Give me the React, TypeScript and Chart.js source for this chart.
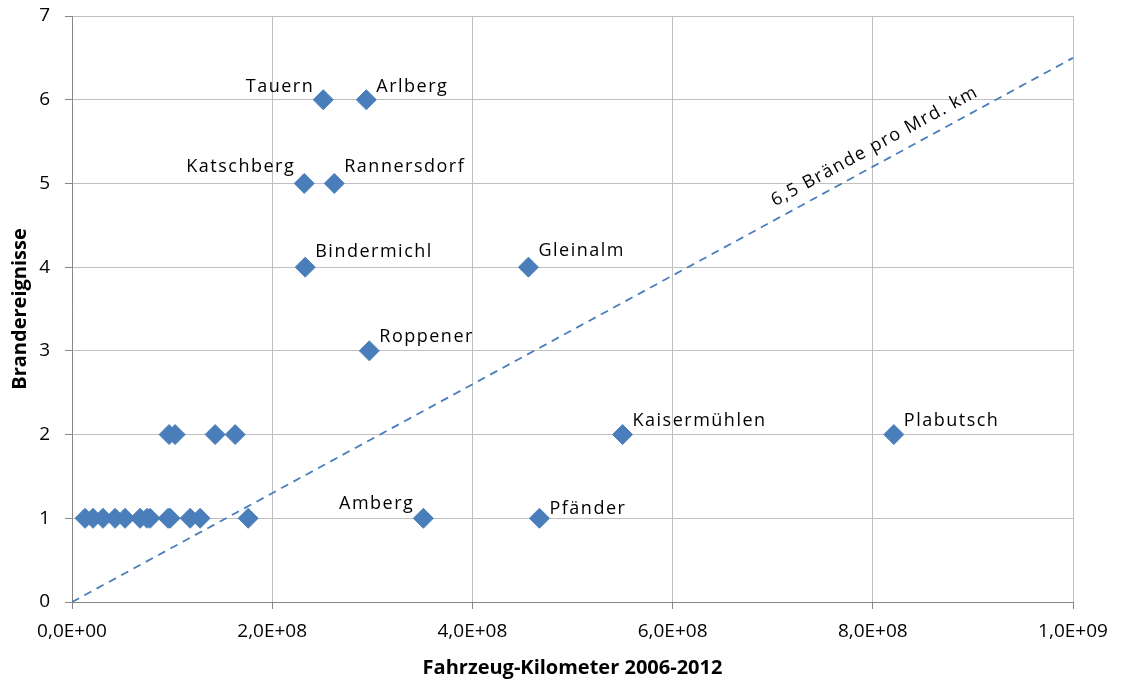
import React, { useEffect, useRef } from "react";
import { Chart, registerables } from "chart.js";

Chart.register(...registerables);

// Labelled tunnels
const tunnelNames = [
  "Tauern", "Arlberg", "Katschberg", "Rannersdorf", "Bindermichl", "Gleinalm",
  "Roppener", "Kaisermühlen", "Plabutsch", "Amberg", "Pfänder",
];
const tunnelKm = [
  2.51e8, 2.94e8, 2.32e8, 2.62e8, 2.33e8, 4.56e8,
  2.97e8, 5.5e8, 8.21e8, 3.51e8, 4.67e8,
];
const tunnelFires = [6, 6, 5, 5, 4, 4, 3, 2, 2, 1, 1];

// Unlabelled tunnels
const otherKm = [
  1.3e7, 2.1e7, 3.1e7, 4.3e7, 5.3e7, 6.8e7, 7.5e7, 7.8e7, 9.6e7, 9.8e7, 1.18e8, 1.28e8, 1.76e8,
  9.7e7, 1.03e8, 1.43e8, 1.63e8,
];
const otherFires = [
  1, 1, 1, 1, 1, 1, 1, 1, 1, 1, 1, 1, 1,
  2, 2, 2, 2,
];

// Reference line: 6,5 fires per billion km
const rateLabel = "6,5 Brände pro Mrd. km";
const rateLineX = [0, 1e9];
const rateLineY = [0, 6.5];

const xTitle = "Fahrzeug-Kilometer 2006-2012";
const yTitle = "Brandereignisse";

// label placement (style only): side of point and vertical offset
const labelSide = ["l", "r", "l", "r", "r", "r", "r", "r", "r", "l", "r"];
const labelDy = [-13, -13, -17, -17, -15, -16, -14, -14, -14, -14, -9];

const FONT = "'Open Sans', 'Noto Sans', sans-serif";
const BLUE = "#4a7ebb";

function sci(v: number): string {
  if (v === 0) return "0,0E+00";
  const e = Math.floor(Math.log10(Math.abs(v)) + 1e-9);
  const m = v / Math.pow(10, e);
  return m.toFixed(1).replace(".", ",") + "E+" + String(e).padStart(2, "0");
}

const textPlugin = {
  id: "texts",
  afterDatasetsDraw(chart: any) {
    const ctx = chart.ctx;
    const xs = chart.scales.x;
    const ys = chart.scales.y;
    ctx.save();
    // point labels
    ctx.font = `18px ${FONT}`;
    (ctx as any).letterSpacing = "1.5px";
    ctx.fillStyle = "#000";
    ctx.textBaseline = "middle";
    tunnelNames.forEach((n, i) => {
      const px = xs.getPixelForValue(tunnelKm[i]);
      const py = ys.getPixelForValue(tunnelFires[i]);
      if (labelSide[i] === "l") {
        ctx.textAlign = "right";
        ctx.fillText(n, px - 9, py + labelDy[i]);
      } else {
        ctx.textAlign = "left";
        ctx.fillText(n, px + 10, py + labelDy[i]);
      }
    });
    // rate line label
    const x0 = xs.getPixelForValue(rateLineX[0]);
    const y0 = ys.getPixelForValue(rateLineY[0]);
    const x1 = xs.getPixelForValue(rateLineX[1]);
    const y1 = ys.getPixelForValue(rateLineY[1]);
    const ang = Math.atan2(y1 - y0, x1 - x0);
    const cx = xs.getPixelForValue(8.1e8);
    const cy = ys.getPixelForValue(6.5 * 0.81);
    ctx.translate(cx, cy);
    ctx.rotate(ang);
    ctx.textAlign = "center";
    ctx.textBaseline = "middle";
    (ctx as any).letterSpacing = "1.5px";
    ctx.fillText(rateLabel, 0, -17);
    ctx.restore();

    // axis titles
    ctx.save();
    ctx.font = `bold 20px ${FONT}`;
    ctx.fillStyle = "#000";
    ctx.textAlign = "center";
    ctx.textBaseline = "middle";
    const ca = chart.chartArea;
    ctx.fillText(xTitle, (ca.left + ca.right) / 2, 668);
    ctx.translate(20, (ca.top + ca.bottom) / 2);
    ctx.rotate(-Math.PI / 2);
    ctx.fillText(yTitle, 0, 0);
    ctx.restore();
  },
};

export default function App() {
  const ref = useRef<HTMLCanvasElement>(null);
  useEffect(() => {
    if (!ref.current) return;
    const chart = new Chart(ref.current, {
      type: "scatter",
      data: {
        datasets: [
          {
            type: "line",
            data: rateLineX.map((x, i) => ({ x, y: rateLineY[i] })),
            borderColor: BLUE,
            borderWidth: 1.8,
            borderDash: [8, 6],
            pointRadius: 0,
            fill: false,
            order: 2,
          } as any,
          {
            data: [
              ...otherKm.map((x, i) => ({ x, y: otherFires[i] })),
              ...tunnelKm.map((x, i) => ({ x, y: tunnelFires[i] })),
            ],
            pointStyle: "rectRot",
            pointRadius: 10,
            backgroundColor: BLUE,
            borderColor: BLUE,
            borderWidth: 1,
            order: 1,
          },
        ],
      },
      options: {
        responsive: false,
        animation: false,
        devicePixelRatio: 1,
        layout: { padding: { left: 0, top: 16, right: 52, bottom: 0 } },
        plugins: {
          legend: { display: false },
          tooltip: { enabled: false },
        },
        scales: {
          x: {
            type: "linear",
            min: 0,
            max: 1e9,
            ticks: {
              stepSize: 2e8,
              callback: (v: any) => sci(Number(v)),
              font: { family: FONT, size: 19 },
              color: "#000",
              padding: 11,
              maxRotation: 0,
            },
            grid: { color: "#c0c0c0", tickColor: "#868686", tickLength: 7, lineWidth: 1 },
            border: { color: "#868686", width: 1 },
            afterFit: (s: any) => {
              s.height = 82;
              s.paddingLeft = 0;
              s.paddingRight = 0;
            },
          },
          y: {
            min: 0,
            max: 7,
            ticks: {
              stepSize: 1,
              font: { family: FONT, size: 19 },
              color: "#000",
              padding: 15,
            },
            grid: { color: "#c0c0c0", tickColor: "#868686", tickLength: 7, lineWidth: 1 },
            border: { color: "#868686", width: 1 },
            afterFit: (s: any) => {
              s.width = 72;
              s.paddingTop = 0;
              s.paddingBottom = 0;
            },
          },
        },
      },
      plugins: [textPlugin],
    });
    return () => chart.destroy();
  }, []);
  return (
    <div style={{ position: "absolute", left: 0, top: 0, width: 1125, height: 684, background: "#fff" }}>
      <canvas ref={ref} width={1125} height={684} />
    </div>
  );
}
